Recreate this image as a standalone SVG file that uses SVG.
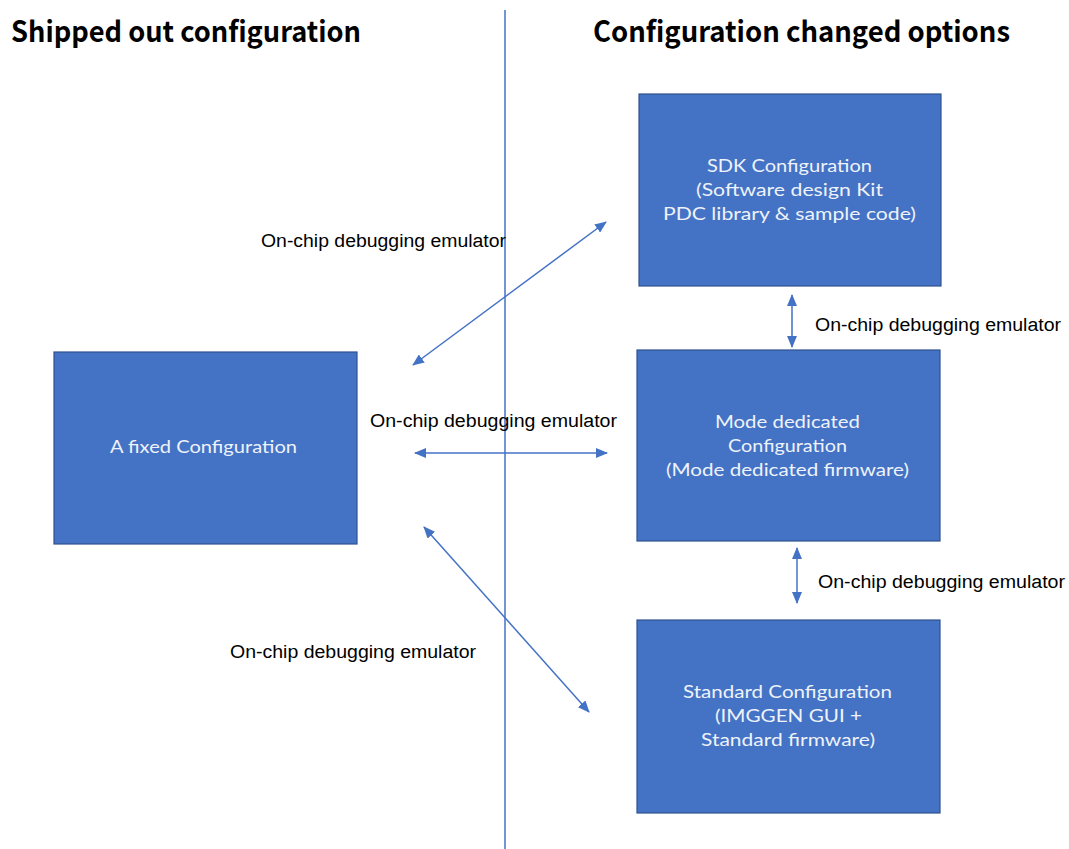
<svg xmlns="http://www.w3.org/2000/svg" width="1069" height="849" viewBox="0 0 1069 849">
  <style>
    .box { fill: #4472C4; stroke: #2F528F; stroke-width: 1.2; }
    .boxtext { fill: #EEF2FA; font-family: Lato, "Noto Sans", sans-serif; font-size: 18px; text-anchor: middle; }
    .head { fill: #000000; font-family: "Noto Sans CJK JP", "Noto Sans", sans-serif; font-size: 29px; font-weight: bold; }
    .label { fill: #000000; font-family: "Liberation Sans", Arial, sans-serif; font-size: 18px; }
    .conn { stroke: #4472C4; stroke-width: 1.5; fill: none; marker-start: url(#arrow); marker-end: url(#arrow); }
    .divider { stroke: #4472C4; stroke-width: 1.5; }
  </style>
  <defs>
    <marker id="arrow" viewBox="0 0 12 10" refX="11" refY="5" markerWidth="12" markerHeight="10" markerUnits="userSpaceOnUse" orient="auto-start-reverse">
      <path d="M0,0 L12,5 L0,10 Z" fill="#4472C4"/>
    </marker>
  </defs>

  <rect width="1069" height="849" fill="#FFFFFF"/>

  <!-- section headings -->
  <g id="headings">
    <text class="head" x="11" y="42" textLength="350" lengthAdjust="spacingAndGlyphs">Shipped out configuration</text>
    <text class="head" x="593" y="42" textLength="417" lengthAdjust="spacingAndGlyphs">Configuration changed options</text>
  </g>

  <!-- divider between the two sections -->
  <line class="divider" x1="505" y1="10" x2="505" y2="849"/>

  <!-- connectors -->
  <g id="connectors">
    <line class="conn" x1="413" y1="365" x2="606" y2="222"/>
    <line class="conn" x1="415" y1="453" x2="607" y2="453"/>
    <line class="conn" x1="424" y1="527" x2="589" y2="712"/>
    <line class="conn" x1="792" y1="295" x2="792" y2="347"/>
    <line class="conn" x1="797" y1="548" x2="797" y2="603"/>
    <g id="connector-labels">
      <text class="label" x="261" y="247" textLength="245" lengthAdjust="spacingAndGlyphs">On-chip debugging emulator</text>
      <text class="label" x="370" y="427" textLength="247" lengthAdjust="spacingAndGlyphs">On-chip debugging emulator</text>
      <text class="label" x="230" y="658" textLength="246" lengthAdjust="spacingAndGlyphs">On-chip debugging emulator</text>
      <text class="label" x="815" y="331" textLength="246" lengthAdjust="spacingAndGlyphs">On-chip debugging emulator</text>
      <text class="label" x="818" y="588" textLength="247" lengthAdjust="spacingAndGlyphs">On-chip debugging emulator</text>
    </g>
  </g>

  <!-- nodes -->
  <g id="fixed-config">
    <rect class="box" x="54" y="352" width="303" height="192"/>
    <text class="boxtext" x="203.5" y="453" textLength="187" lengthAdjust="spacingAndGlyphs">A fixed  Configuration</text>
  </g>

  <g id="sdk-config">
    <rect class="box" x="639" y="94" width="302" height="192"/>
    <text class="boxtext" x="789.5" y="172" textLength="165" lengthAdjust="spacingAndGlyphs">SDK Configuration</text>
    <text class="boxtext" x="789.5" y="196" textLength="187" lengthAdjust="spacingAndGlyphs">(Software design Kit</text>
    <text class="boxtext" x="789.5" y="220" textLength="253" lengthAdjust="spacingAndGlyphs">PDC library &amp; sample code)</text>
  </g>

  <g id="mode-config">
    <rect class="box" x="637" y="350" width="303" height="191"/>
    <text class="boxtext" x="787.5" y="428" textLength="145" lengthAdjust="spacingAndGlyphs">Mode dedicated</text>
    <text class="boxtext" x="787.5" y="452" textLength="119" lengthAdjust="spacingAndGlyphs">Configuration</text>
    <text class="boxtext" x="787.5" y="476" textLength="243" lengthAdjust="spacingAndGlyphs">(Mode dedicated firmware)</text>
  </g>

  <g id="standard-config">
    <rect class="box" x="637" y="620" width="303" height="193"/>
    <text class="boxtext" x="787.5" y="698" textLength="209" lengthAdjust="spacingAndGlyphs">Standard Configuration</text>
    <text class="boxtext" x="788.5" y="722" textLength="147" lengthAdjust="spacingAndGlyphs">(IMGGEN  GUI +</text>
    <text class="boxtext" x="788" y="746" textLength="174" lengthAdjust="spacingAndGlyphs">Standard firmware)</text>
  </g>
</svg>
